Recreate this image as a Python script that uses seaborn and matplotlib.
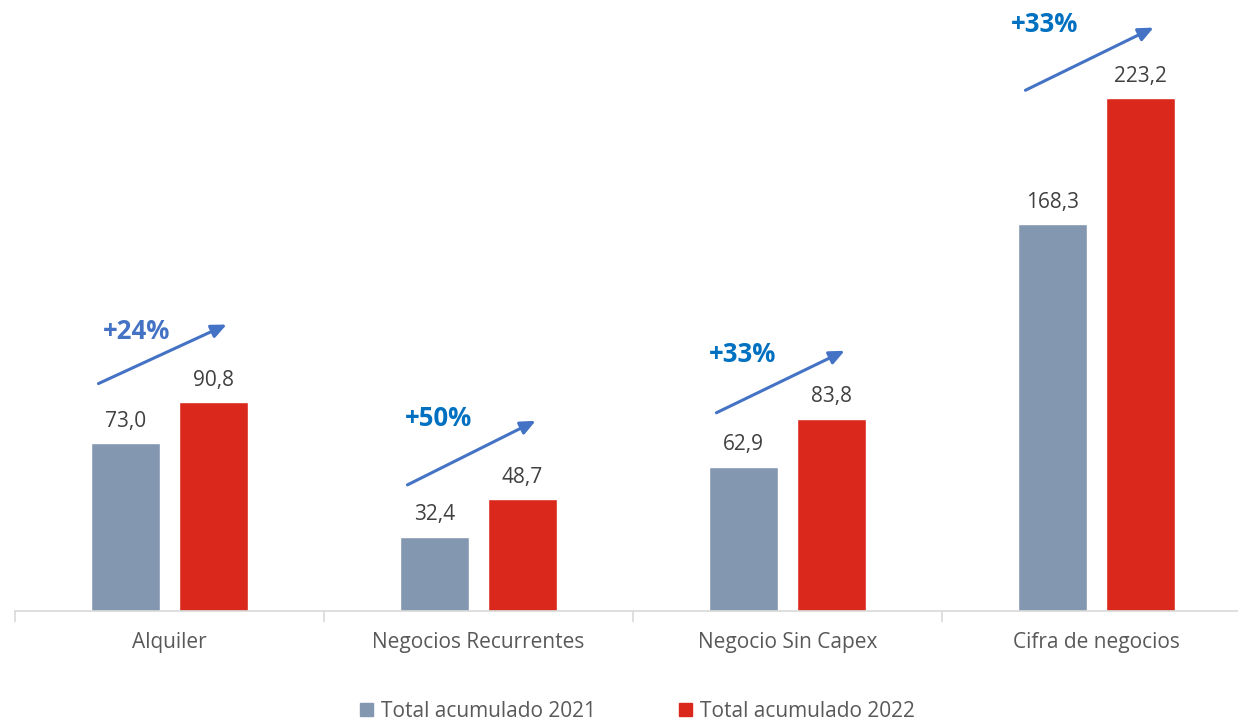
import numpy as np
import pandas as pd
import seaborn as sns
import matplotlib.pyplot as plt
from matplotlib.patches import Rectangle

sns.set_style("white")
plt.rcParams['font.family'] = ['Open Sans', 'DejaVu Sans']

# ---- datos ----
categorias = ["Alquiler", "Negocios Recurrentes", "Negocio Sin Capex", "Cifra de negocios"]
series = ["Total acumulado 2021", "Total acumulado 2022"]
valores_2021 = [73.0, 32.4, 62.9, 168.3]
valores_2022 = [90.8, 48.7, 83.8, 223.2]
crecimiento = ["+24%", "+50%", "+33%", "+33%"]
# flechas: (y inicio, y fin) en unidades del eje
flecha_y0 = [99.0, 54.9, 86.3, 226.7]
flecha_y1 = [124.7, 82.8, 113.3, 254.0]
texto_dx = [-0.107, -0.131, -0.144, -0.167]
texto_y = [121.6, 84.0, 111.6, 255.5]

colores = ["#8497B0", "#DA291C"]
col_pct = ["#4472C4", "#0070C0", "#0070C0", "#0070C0"]

df = pd.DataFrame({
    "categoria": categorias * 2,
    "serie": [series[0]] * 4 + [series[1]] * 4,
    "valor": valores_2021 + valores_2022,
})

fig = plt.figure(figsize=(12.38, 7.21), dpi=100)
ax = fig.add_axes([15 / 1238, 110 / 721, 1223 / 1238, 611 / 721])

sns.barplot(data=df, x="categoria", y="valor", hue="serie", palette=colores,
            width=0.57, gap=0.22, ax=ax, legend=False, saturation=1)

for cont in ax.containers:
    ax.bar_label(cont, labels=[f"{v:.1f}".replace(".", ",") for v in cont.datavalues],
                 padding=8, fontsize=15, color="#404040")

for i in range(len(categorias)):
    ax.annotate("", xy=(i + 0.185, flecha_y1[i]), xytext=(i - 0.23, flecha_y0[i]),
                arrowprops=dict(arrowstyle="-|>,head_length=0.9,head_width=0.4",
                                color="#4472C4", lw=2.2, shrinkA=0, shrinkB=0))
    ax.text(i + texto_dx[i], texto_y[i], crecimiento[i], ha="center", va="center",
            fontsize=18.5, fontweight="bold", color=col_pct[i])

ax.set_xticks(np.arange(-0.5, 3, 1), minor=True)
ax.set_ylim(0, 266)
ax.set_xlim(-0.5, 3.458)
ax.set_xlabel("")
ax.set_ylabel("")
ax.set_yticks([])
ax.tick_params(axis="x", which="major", length=0, pad=15, labelsize=15, labelcolor="#595959")
ax.tick_params(axis="x", which="minor", length=8, width=1.2, color="#D9D9D9", bottom=True)
for s in ["top", "right", "left"]:
    ax.spines[s].set_visible(False)
ax.spines["bottom"].set_color("#D9D9D9")
ax.spines["bottom"].set_linewidth(1.2)

handles = [Rectangle((0, 0), 1, 1, color=c) for c in colores]
fig.legend(handles, series, loc="center", bbox_to_anchor=(0.515, 0.013), ncol=2,
           frameon=False, fontsize=15, handlelength=0.6, handleheight=0.6,
           handletextpad=0.4, columnspacing=4.0, labelcolor="#595959")

fig.savefig("out.png", dpi=100)
